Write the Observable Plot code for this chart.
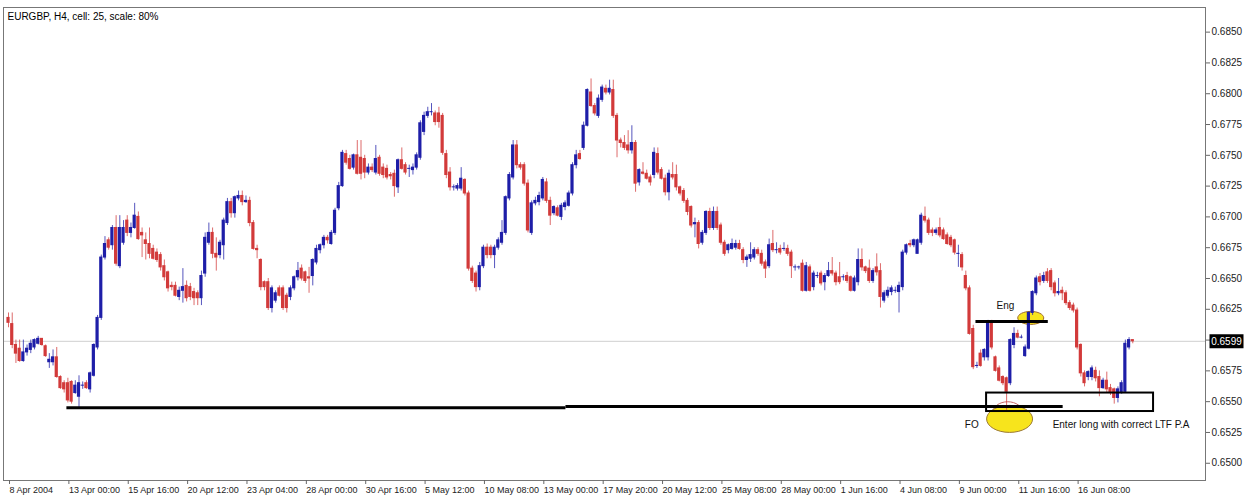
<!DOCTYPE html>
<html><head><meta charset="utf-8">
<script src="https://cdn.jsdelivr.net/npm/d3@7"></script>
<script src="https://cdn.jsdelivr.net/npm/@observablehq/plot@0.6"></script>
<style>html,body{margin:0;padding:0;background:#fff;overflow:hidden}</style>
</head><body><div id="chart"></div>
<script>
// ---- Data: EURGBP H4 candles (bar index 0..303) ----
const opens = [.6618,.6613,.6596,.6593,.6583,.6590,.6592,.6594,.6597,.6601,
.6595,.6582,.6582,.6586,.6570,.6565,.6565,.6566,.6557,.6554,
.6563,.6565,.6560,.6571,.6594,.6618,.6667,.6681,.6677,.6691,
.6660,.6679,.6697,.6687,.6691,.6700,.6687,.6681,.6678,.6674,
.6671,.6669,.6660,.6655,.6644,.6644,.6635,.6640,.6644,.6643,
.6639,.6638,.6634,.6654,.6679,.6687,.6670,.6669,.6677,.6695,
.6712,.6703,.6715,.6717,.6712,.6713,.6695,.6674,.6665,.6647,
.6647,.6626,.6632,.6642,.6642,.6636,.6635,.6642,.6651,.6658,
.6655,.6651,.6652,.6663,.6673,.6677,.6683,.6678,.6687,.6707,
.6725,.6751,.6747,.6740,.6750,.6748,.6747,.6736,.6740,.6736,
.6748,.6740,.6739,.6734,.6735,.6724,.6746,.6742,.6739,.6738,
.6740,.6748,.6769,.6782,.6785,.6784,.6784,.6782,.6751,.6736,
.6724,.6723,.6723,.6730,.6719,.6658,.6654,.6643,.6660,.6675,
.6675,.6669,.6675,.6679,.6687,.6715,.6732,.6758,.6742,.6742,
.6727,.6687,.6711,.6712,.6715,.6728,.6713,.6703,.6707,.6700,
.6708,.6709,.6719,.6742,.6751,.6756,.6774,.6801,.6790,.6782,
.6795,.6804,.6801,.6803,.6782,.6762,.6760,.6758,.6754,.6760,
.6728,.6736,.6735,.6732,.6734,.6751,.6738,.6731,.6720,.6734,
.6734,.6724,.6721,.6713,.6708,.6694,.6695,.6679,.6687,.6704,
.6691,.6704,.6693,.6679,.6673,.6674,.6675,.6678,.6673,.6665,
.6666,.6667,.6673,.6670,.6663,.6660,.6678,.6673,.6674,.6674,
.6674,.6671,.6659,.6659,.6662,.6640,.6659,.6643,.6652,.6654,
.6647,.6652,.6656,.6654,.6651,.6651,.6652,.6651,.6640,.6647,
.6665,.6659,.6658,.6648,.6659,.6656,.6632,.6636,.6639,.6640,
.6639,.6643,.6671,.6678,.6677,.6670,.6679,.6700,.6697,.6689,
.6687,.6691,.6689,.6685,.6683,.6681,.6670,.6669,.6652,.6642,
.6609,.6579,.6589,.6586,.6586,.6614,.6586,.6577,.6570,.6569,
.6565,.6596,.6605,.6602,.6587,.6593,.6622,.6638,.6651,.6648,
.6655,.6656,.6646,.6638,.6640,.6638,.6630,.6628,.6624,.6596,
.6573,.6570,.6570,.6575,.6570,.6561,.6567,.6561,.6560,.6553,
.6557,.6558,.6594,.6600];
const highs = [.6622,.6622,.6600,.6600,.6600,.6596,.6600,.6601,.6603,.6601,
.6596,.6589,.6592,.6594,.6571,.6567,.6569,.6567,.6567,.6571,
.6566,.6567,.6574,.6597,.6620,.6669,.6684,.6683,.6693,.6701,
.6701,.6697,.6701,.6695,.6711,.6704,.6691,.6687,.6691,.6677,
.6674,.6671,.6665,.6656,.6647,.6647,.6643,.6658,.6648,.6646,
.6642,.6640,.6656,.6687,.6695,.6691,.6683,.6681,.6699,.6715,
.6715,.6717,.6721,.6721,.6717,.6716,.6697,.6677,.6666,.6648,
.6650,.6644,.6640,.6644,.6644,.6638,.6644,.6652,.6663,.6661,
.6656,.6659,.6666,.6677,.6678,.6685,.6685,.6689,.6707,.6728,
.6754,.6754,.6750,.6751,.6762,.6762,.6750,.6743,.6743,.6758,
.6750,.6743,.6742,.6736,.6738,.6747,.6756,.6744,.6742,.6743,
.6752,.6778,.6785,.6789,.6792,.6786,.6789,.6784,.6754,.6740,
.6726,.6727,.6740,.6731,.6721,.6660,.6656,.6663,.6677,.6678,
.6677,.6677,.6683,.6697,.6717,.6736,.6762,.6762,.6744,.6744,
.6730,.6713,.6716,.6720,.6732,.6731,.6716,.6709,.6709,.6711,
.6713,.6721,.6744,.6754,.6754,.6777,.6804,.6812,.6792,.6799,
.6807,.6807,.6811,.6811,.6784,.6764,.6766,.6770,.6774,.6762,
.6739,.6744,.6738,.6734,.6756,.6756,.6740,.6734,.6738,.6744,
.6742,.6725,.6723,.6715,.6709,.6699,.6697,.6689,.6705,.6707,
.6708,.6708,.6695,.6681,.6678,.6682,.6681,.6681,.6675,.6669,
.6679,.6675,.6675,.6673,.6665,.6682,.6689,.6679,.6677,.6679,
.6677,.6673,.6661,.6660,.6665,.6663,.6661,.6656,.6655,.6656,
.6654,.6663,.6667,.6656,.6663,.6653,.6655,.6652,.6652,.6674,
.6674,.6660,.6665,.6658,.6670,.6662,.6640,.6643,.6644,.6643,
.6647,.6673,.6678,.6681,.6682,.6682,.6703,.6708,.6699,.6691,
.6691,.6699,.6691,.6687,.6685,.6682,.6677,.6671,.6656,.6644,
.6612,.6582,.6592,.6593,.6616,.6616,.6587,.6579,.6571,.6570,
.6601,.6610,.6608,.6604,.6596,.6623,.6640,.6652,.6654,.6655,
.6658,.6658,.6648,.6650,.6643,.6640,.6632,.6630,.6626,.6597,
.6575,.6575,.6579,.6578,.6575,.6569,.6574,.6564,.6561,.6562,
.6567,.6600,.6602,.6600];
const lows = [.6610,.6593,.6581,.6582,.6582,.6587,.6589,.6592,.6596,.6595,
.6586,.6577,.6579,.6569,.6560,.6557,.6549,.6548,.6556,.6545,
.6560,.6560,.6557,.6570,.6592,.6616,.6665,.6673,.6673,.6660,
.6658,.6677,.6684,.6683,.6690,.6681,.6667,.6665,.6666,.6665,
.6663,.6656,.6648,.6639,.6640,.6635,.6632,.6630,.6631,.6632,
.6628,.6628,.6628,.6651,.6677,.6666,.6656,.6666,.6665,.6693,
.6699,.6699,.6713,.6709,.6711,.6692,.6673,.6666,.6640,.6640,
.6624,.6622,.6630,.6635,.6624,.6622,.6632,.6640,.6648,.6648,
.6646,.6638,.6644,.6661,.6670,.6674,.6678,.6677,.6685,.6705,
.6724,.6742,.6738,.6738,.6734,.6730,.6731,.6734,.6736,.6734,
.6733,.6731,.6730,.6730,.6716,.6719,.6738,.6734,.6732,.6734,
.6738,.6746,.6766,.6780,.6782,.6774,.6772,.6750,.6731,.6721,
.6721,.6721,.6721,.6717,.6656,.6646,.6639,.6640,.6658,.6666,
.6666,.6658,.6673,.6677,.6685,.6713,.6730,.6739,.6738,.6725,
.6687,.6685,.6709,.6709,.6713,.6711,.6693,.6701,.6700,.6697,
.6705,.6708,.6717,.6739,.6746,.6754,.6773,.6789,.6782,.6780,
.6793,.6799,.6799,.6780,.6748,.6756,.6754,.6751,.6751,.6720,
.6725,.6734,.6730,.6725,.6731,.6734,.6730,.6717,.6713,.6730,
.6721,.6717,.6711,.6701,.6691,.6683,.6674,.6677,.6685,.6689,
.6689,.6689,.6677,.6668,.6670,.6673,.6673,.6673,.6662,.6659,
.6663,.6665,.6668,.6660,.6650,.6658,.6671,.6670,.6669,.6672,
.6668,.6650,.6656,.6657,.6639,.6639,.6639,.6640,.6650,.6644,
.6640,.6651,.6652,.6644,.6645,.6648,.6646,.6639,.6639,.6644,
.6656,.6654,.6646,.6646,.6652,.6626,.6630,.6634,.6636,.6638,
.6622,.6640,.6669,.6675,.6675,.6670,.6677,.6695,.6685,.6684,
.6685,.6683,.6681,.6677,.6675,.6669,.6659,.6656,.6640,.6604,
.6576,.6577,.6578,.6583,.6583,.6592,.6574,.6566,.6563,.6543,
.6563,.6593,.6601,.6601,.6586,.6592,.6620,.6636,.6644,.6646,
.6646,.6640,.6635,.6636,.6632,.6628,.6624,.6622,.6592,.6570,
.6562,.6567,.6567,.6566,.6554,.6560,.6557,.6555,.6548,.6549,
.6556,.6557,.6592,.6597];
const closes = [.6614,.6596,.6589,.6583,.6590,.6593,.6597,.6600,.6601,.6596,
.6587,.6584,.6586,.6570,.6561,.6560,.6551,.6550,.6563,.6565,
.6563,.6561,.6573,.6596,.6618,.6667,.6678,.6675,.6691,.6662,
.6691,.6691,.6687,.6691,.6701,.6682,.6685,.6678,.6670,.6666,
.6665,.6659,.6651,.6642,.6643,.6636,.6640,.6643,.6634,.6635,
.6634,.6634,.6652,.6683,.6687,.6670,.6667,.6679,.6697,.6712,
.6703,.6716,.6717,.6712,.6713,.6695,.6674,.6673,.6643,.6643,
.6626,.6642,.6638,.6636,.6626,.6626,.6642,.6651,.6656,.6650,
.6648,.6650,.6665,.6674,.6677,.6683,.6681,.6687,.6705,.6725,
.6752,.6744,.6739,.6750,.6735,.6735,.6736,.6740,.6738,.6747,
.6735,.6734,.6732,.6733,.6725,.6746,.6739,.6736,.6739,.6740,
.6750,.6776,.6782,.6785,.6785,.6777,.6777,.6752,.6734,.6724,
.6724,.6725,.6731,.6719,.6658,.6648,.6643,.6660,.6675,.6669,
.6669,.6675,.6681,.6687,.6716,.6734,.6758,.6742,.6740,.6727,
.6689,.6711,.6713,.6717,.6730,.6713,.6701,.6708,.6701,.6709,
.6711,.6719,.6742,.6750,.6747,.6774,.6803,.6790,.6784,.6796,
.6805,.6801,.6804,.6782,.6762,.6760,.6756,.6754,.6760,.6727,
.6738,.6735,.6731,.6728,.6752,.6736,.6731,.6720,.6735,.6732,
.6724,.6719,.6713,.6704,.6693,.6695,.6678,.6687,.6704,.6691,
.6704,.6691,.6679,.6670,.6677,.6678,.6678,.6674,.6665,.6667,
.6669,.6673,.6670,.6662,.6658,.6677,.6673,.6673,.6671,.6674,
.6670,.6660,.6659,.6659,.6640,.6660,.6640,.6654,.6652,.6646,
.6652,.6656,.6654,.6647,.6647,.6651,.6648,.6640,.6650,.6665,
.6659,.6656,.6648,.6656,.6655,.6635,.6638,.6640,.6642,.6640,
.6644,.6671,.6677,.6677,.6681,.6681,.6701,.6697,.6687,.6687,
.6689,.6685,.6682,.6678,.6677,.6671,.6670,.6659,.6642,.6605,
.6578,.6579,.6579,.6592,.6614,.6594,.6575,.6567,.6565,.6558,
.6600,.6605,.6602,.6602,.6594,.6622,.6639,.6650,.6647,.6652,
.6648,.6643,.6638,.6639,.6638,.6630,.6626,.6624,.6594,.6573,
.6565,.6574,.6577,.6569,.6561,.6567,.6560,.6557,.6553,.6560,
.6565,.6597,.6600,.6599];

// ---- Axis tick values & labels ----
const dateTickBars = [0,16,32,48,64,80,96,112,128,144,160,176,192,208,224,240,256,272,288];
const dateTickLabels = ["8 Apr 2004","13 Apr 00:00","15 Apr 16:00","20 Apr 12:00","23 Apr 04:00","28 Apr 00:00","30 Apr 16:00","5 May 12:00","10 May 08:00","13 May 00:00","17 May 20:00","20 May 12:00","25 May 08:00","28 May 00:00","1 Jun 16:00","4 Jun 08:00","9 Jun 00:00","11 Jun 16:00","16 Jun 08:00"];
const priceTicks = [0.6500,0.6525,0.6550,0.6575,0.6600,0.6625,0.6650,0.6675,0.6700,0.6725,0.6750,0.6775,0.6800,0.6825,0.6850];
const lastPrice = 0.6599;
const chartTitle = "EURGBP, H4, cell: 25, scale: 80%";

// ---- Annotations (bar index / price) ----
const supportLines = [{x1: 15.6, x2: 150.1, y: 0.6545}, {x1: 150.1, x2: 284.1, y: 0.6546}];
const engLine = [{x1: 260.6, x2: 280.1, y: 0.6615}];
const zoneBox = [{x1: 263.6, x2: 308.6, y1: 0.6557, y2: 0.6542}];
const foEllipse = [{x: 269.8, y: 0.6536}];
const foArc = [{x: 269.3, y: 0.6541}];
const engEllipse = [{x: 275.5, y: 0.6618}];
const centerNotes = [
  {x: 268.7, y: 0.6628, text: "Eng"},
  {x: 259.6, y: 0.6531, text: "FO"}
];
const startNotes = [
  {x: 281.4, y: 0.6531, text: "Enter long with correct LTF P.A"}
];

const BLUE = "#1e1ea8", RED = "#d23a3a";
const candles = opens.map((o, i) => ({i, open: o, high: highs[i], low: lows[i], close: closes[i],
  dir: closes[i] >= o ? "up" : "down"}));

function ellipseSymbol(rx, ry) {
  const k = 0.5523;
  return {draw(ctx) {
    ctx.moveTo(rx, 0);
    ctx.bezierCurveTo(rx, ry * k, rx * k, ry, 0, ry);
    ctx.bezierCurveTo(-rx * k, ry, -rx, ry * k, -rx, 0);
    ctx.bezierCurveTo(-rx, -ry * k, -rx * k, -ry, 0, -ry);
    ctx.bezierCurveTo(rx * k, -ry, rx, -ry * k, rx, 0);
    ctx.closePath();
  }};
}
function rectSymbol(hw, hh) {
  return {draw(ctx) { ctx.moveTo(-hw, -hh); ctx.lineTo(hw, -hh); ctx.lineTo(hw, hh); ctx.lineTo(-hw, hh); ctx.closePath(); }};
}

const W = 1249, H = 497, mL = 3, mR = 44, mT = 7, mB = 17;
const xDomain = [-1.35, 322.6];
const pxPerUnit = (W - mL - mR) / (xDomain[1] - xDomain[0]);
const xPriceLabel = xDomain[1] + 21 / pxPerUnit;

const chart = Plot.plot({
  width: W, height: H,
  marginLeft: mL, marginRight: mR, marginTop: mT, marginBottom: mB,
  style: {fontFamily: "'Liberation Sans', Arial, sans-serif", fontSize: "10px", background: "#fff", color: "#222"},
  x: {type: "linear", domain: xDomain},
  y: {domain: [0.6486, 0.6870]},
  color: {domain: ["up", "down"], range: [BLUE, RED]},
  marks: [
    Plot.ruleY([lastPrice], {stroke: "#cfcfcf", strokeWidth: 1}),
    Plot.dot(foArc, {x: "x", y: "y", symbol: ellipseSymbol(15, 11), r: 5, fill: "none", stroke: "#c86a6a", strokeWidth: 1}),
    Plot.dot(foEllipse, {x: "x", y: "y", symbol: ellipseSymbol(23, 13.5), r: 5, fill: "#f7e41c", stroke: "#9c7a3a", strokeWidth: 1}),
    Plot.dot(engEllipse, {x: "x", y: "y", symbol: ellipseSymbol(13, 6.5), r: 5, fill: "#f7e41c", stroke: "#9c6a2a", strokeWidth: 1}),
    Plot.ruleX(candles, {x: "i", y1: "low", y2: "high", stroke: "dir", strokeWidth: 1, strokeOpacity: 0.75}),
    Plot.rect(candles, {x1: d => d.i - 0.43, x2: d => d.i + 0.43, y1: "open", y2: "close", fill: "dir", insetTop: -0.5, insetBottom: -0.5}),
    Plot.link(supportLines, {x1: "x1", x2: "x2", y1: "y", y2: "y", stroke: "#000", strokeWidth: 3}),
    Plot.link(engLine, {x1: "x1", x2: "x2", y1: "y", y2: "y", stroke: "#000", strokeWidth: 3}),
    Plot.rect(zoneBox, {x1: "x1", x2: "x2", y1: "y1", y2: "y2", fill: "none", stroke: "#000", strokeWidth: 2}),
    Plot.text(centerNotes, {x: "x", y: "y", text: "text", textAnchor: "middle", fontSize: 10, fill: "#111"}),
    Plot.text(startNotes, {x: "x", y: "y", text: "text", textAnchor: "start", fontSize: 10, fill: "#111"}),
    Plot.text([chartTitle], {frameAnchor: "top-left", dx: 4, dy: 9.5, textAnchor: "start", lineAnchor: "middle", fontSize: 10, fill: "#000"}),
    Plot.frame({stroke: "#777"}),
    Plot.axisY(priceTicks, {anchor: "right", tickSize: 4, tickPadding: 2, tickFormat: d => d.toFixed(4), fontSize: 10, stroke: "#666", fill: "#222", label: null}),
    Plot.axisX(dateTickBars, {anchor: "bottom", tickSize: 4, tickPadding: 2, tickFormat: d => dateTickLabels[dateTickBars.indexOf(d)], textAnchor: "start", dx: 1, fontSize: 9, stroke: "#666", fill: "#222", label: null}),
    Plot.dot([lastPrice], {x: () => xPriceLabel, y: d => d, symbol: rectSymbol(17, 7), r: 5, fill: "#000"}),
    Plot.text([lastPrice], {x: () => xPriceLabel, y: d => d, text: d => d.toFixed(4), fill: "#fff", fontSize: 10})
  ]
});
document.getElementById("chart").appendChild(chart);
</script>
</body></html>
